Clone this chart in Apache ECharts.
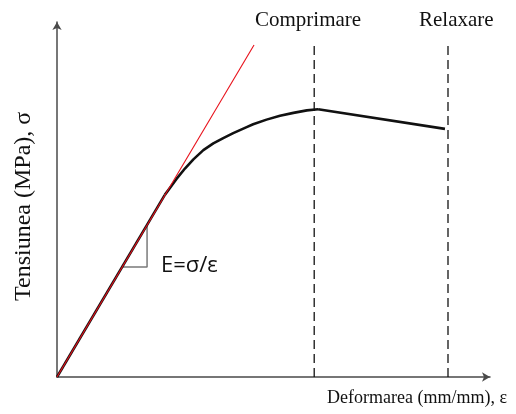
<!DOCTYPE html>
<html>
<head>
<meta charset="utf-8">
<script src="https://cdn.jsdelivr.net/npm/echarts@6/dist/echarts.min.js"></script>
<style>
  html, body { margin: 0; padding: 0; background: #fff; }
  #chart { width: 516px; height: 414px; }
</style>
</head>
<body>
<div id="chart"></div>
<script>
// Stress–strain diagram (schematic units, 0..10 on both axes)
const elasticPart = [[0, 0], [2.49, 5.13]];
const plasticPart = [
  [2.49, 5.13], [2.76, 5.58], [2.96, 5.88], [3.15, 6.13], [3.38, 6.39],
  [3.61, 6.58], [3.84, 6.73], [4.07, 6.87], [4.38, 7.04], [4.53, 7.12], [4.84, 7.25],
  [5.15, 7.36], [5.46, 7.44], [5.77, 7.51], [6.03, 7.54]
];
const relaxPart = [[6.03, 7.54], [8.96, 6.99]];
const modulusLine = [[0, 0], [4.55, 9.35]];
const slopeTriangle = [[2.08, 4.27], [2.08, 3.10], [1.51, 3.10]];
const compressionX = 5.94;
const relaxationX = 9.03;
const markerTop = 9.35;
const labels = {
  compression: 'Comprimare',
  relaxation: 'Relaxare',
  modulus: 'E=σ/ε',
  xName: 'Deformarea (mm/mm), ε',
  yName: 'Tensiunea (MPa), σ'
};

const chart = echarts.init(document.getElementById('chart'), null, { renderer: 'canvas' });
const serif = '"Liberation Serif", "Times New Roman", serif';
const axisColor = '#4a4a4a';

const guide = (x) => ({
  type: 'line', data: [[x, 0], [x, markerTop]], symbol: 'none', silent: true,
  lineStyle: { color: '#111', width: 1.3, type: [9, 5] }, z: 2
});

chart.setOption({
  animation: false,
  grid: { left: 57, right: 26, top: 22, bottom: 37 },
  xAxis: {
    type: 'value', min: 0, max: 10,
    axisLine: { show: true, symbol: ['none', 'arrow'], symbolSize: [7, 8], lineStyle: { color: axisColor, width: 1.5 } },
    axisTick: { show: false }, axisLabel: { show: false }, splitLine: { show: false }
  },
  yAxis: {
    type: 'value', min: 0, max: 10,
    axisLine: { show: true, symbol: ['none', 'arrow'], symbolSize: [7, 8], lineStyle: { color: axisColor, width: 1.5 } },
    axisTick: { show: false }, axisLabel: { show: false }, splitLine: { show: false }
  },
  series: [
    guide(compressionX),
    guide(relaxationX),
    { type: 'line', data: slopeTriangle, symbol: 'none', lineStyle: { color: '#7a7a7a', width: 1.5 }, z: 3 },
    { type: 'line', data: elasticPart, symbol: 'none', lineStyle: { color: '#111', width: 2.6 }, z: 4 },
    { type: 'line', data: plasticPart, symbol: 'none', lineStyle: { color: '#111', width: 2.6, join: 'round' }, z: 4 },
    { type: 'line', data: relaxPart, symbol: 'none', lineStyle: { color: '#111', width: 2.6 }, z: 4 },
    { type: 'line', data: modulusLine, symbol: 'none', lineStyle: { color: '#e8101a', width: 1.1 }, z: 5 }
  ],
  graphic: [
    { type: 'text', left: 255, top: 10, style: { text: labels.compression, font: '21px ' + serif, fill: '#111' } },
    { type: 'text', left: 419, top: 10, style: { text: labels.relaxation, font: '21px ' + serif, fill: '#111' } },
    { type: 'text', left: 327, top: 389, style: { text: labels.xName, font: '18px ' + serif, fill: '#111' } },
    { type: 'text', left: 161, top: 255, style: { text: labels.modulus, font: '22px "Open Sans", sans-serif', fill: '#111' } },
    { type: 'text', x: 12, y: 301, rotation: Math.PI / 2, style: { text: labels.yName, font: '24px ' + serif, fill: '#111' } }
  ]
});
</script>
</body>
</html>
